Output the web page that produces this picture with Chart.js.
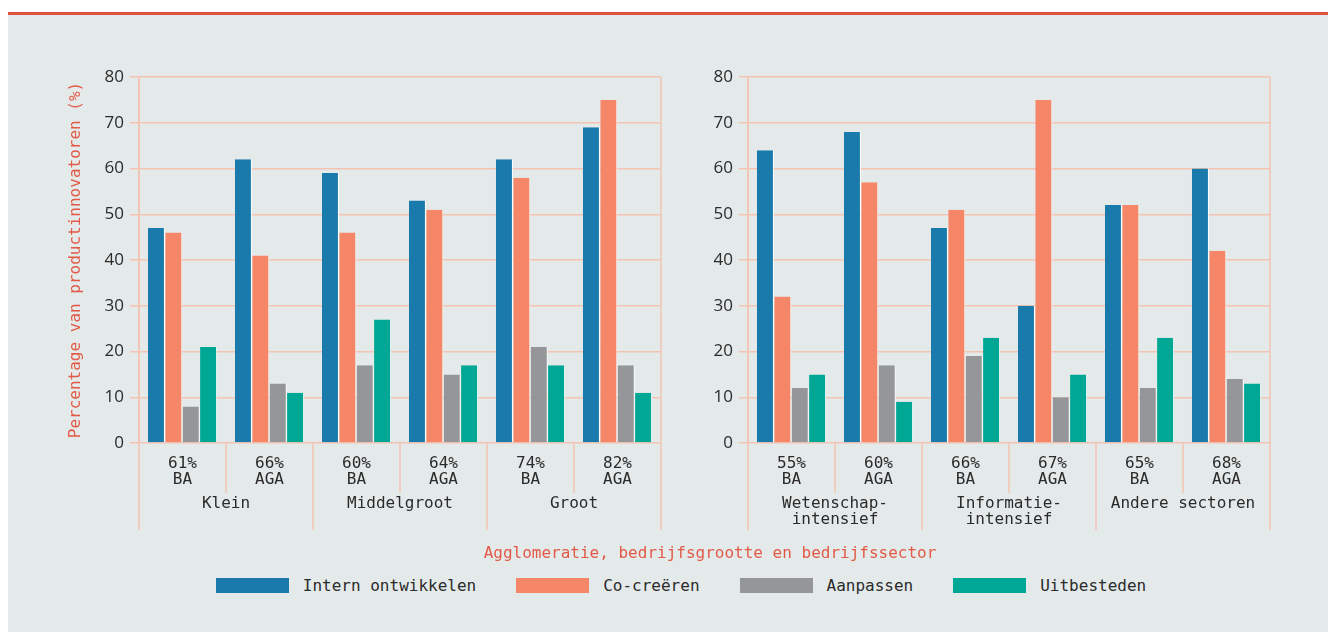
<!DOCTYPE html>
<html>
<head>
<meta charset="utf-8">
<script src="https://cdn.jsdelivr.net/npm/chart.js@4.4.1/dist/chart.umd.min.js"></script>
<style>
  html, body { margin: 0; padding: 0; background: #ffffff; }
  #wrap { position: relative; width: 1328px; height: 632px; overflow: hidden; background: #ffffff; }
  #panel { position: absolute; left: 8px; top: 15px; right: 0; bottom: 0; background: #e4eaea; }
  #redline { position: absolute; left: 8px; top: 12px; right: 0; height: 3px; background: #e0533f; }
  .cv { position: absolute; }
  #xtitle { position: absolute; left: 0; width: 1420px; top: 543px; text-align: center;
            font-family: "DejaVu Sans Mono", monospace; font-size: 16px; color: #e25a47; }
  #legend { position: absolute; left: 0; width: 1362px; top: 576px; display: flex; justify-content: center;
            gap: 40px; font-family: "DejaVu Sans Mono", monospace; font-size: 16px; color: #2b2b2b; }
  .li { display: flex; align-items: center; }
  .sw { width: 73px; height: 15px; margin-right: 14px; }
</style>
</head>
<body>
<div id="wrap">
  <div id="panel"></div>
  <div id="redline"></div>
  <div class="cv" style="left:62px;top:50px;width:609px;height:495px;"><canvas id="cl"></canvas></div>
  <div class="cv" style="left:688px;top:50px;width:592px;height:495px;"><canvas id="cr"></canvas></div>
  <div id="xtitle"></div>
  <div id="legend"></div>
</div>
<script>
// ---------- data ----------
const seriesNames = ['Intern ontwikkelen', 'Co-creëren', 'Aanpassen', 'Uitbesteden'];
const seriesColors = ['#1a7aab', '#f58667', '#959699', '#00a794'];

const leftCategories = [['61%', 'BA'], ['66%', 'AGA'], ['60%', 'BA'], ['64%', 'AGA'], ['74%', 'BA'], ['82%', 'AGA']];
const leftGroups = ['Klein', 'Middelgroot', 'Groot'];
const leftIntern    = [47, 62, 59, 53, 62, 69];
const leftCocreeren = [46, 41, 46, 51, 58, 75];
const leftAanpassen = [8, 13, 17, 15, 21, 17];
const leftUitbest   = [21, 11, 27, 17, 17, 11];

const rightCategories = [['55%', 'BA'], ['60%', 'AGA'], ['66%', 'BA'], ['67%', 'AGA'], ['65%', 'BA'], ['68%', 'AGA']];
const rightGroups = [['Wetenschap-', 'intensief'], ['Informatie-', 'intensief'], 'Andere sectoren'];
const rightIntern    = [64, 68, 47, 30, 52, 60];
const rightCocreeren = [32, 57, 51, 75, 52, 42];
const rightAanpassen = [12, 17, 19, 10, 12, 14];
const rightUitbest   = [15, 9, 23, 15, 23, 13];

const yMin = 0, yMax = 80, yStep = 10;
const yTitle = 'Percentage van productinnovatoren (%)';
const xTitle = 'Agglomeratie, bedrijfsgrootte en bedrijfssector';

// ---------- styles ----------
const gridColor = '#f4c3b3';
const mono = '"DejaVu Sans Mono", monospace';
const sans = '"Open Sans", "Noto Sans", sans-serif';
const textColor = '#2b2b2b';

const sepPlugin = {
  id: 'seps',
  afterDraw(chart) {
    const { ctx, chartArea: a } = chart;
    const x = chart.scales.x;
    const n = chart.data.labels.length;
    ctx.save();
    ctx.strokeStyle = gridColor;
    ctx.lineWidth = 1.5;
    for (let i = 0; i <= n; i++) {
      let px;
      if (i === 0) px = a.left;
      else if (i === n) px = a.right;
      else px = (x.getPixelForValue(i - 1) + x.getPixelForValue(i)) / 2;
      const major = i % 2 === 0;
      const y0 = (i === 0 || i === n) ? a.top : a.bottom;
      const y1 = major ? a.bottom + 87 : a.bottom + 50;
      ctx.beginPath();
      ctx.moveTo(px, y0);
      ctx.lineTo(px, y1);
      ctx.stroke();
    }
    ctx.restore();
  }
};

function makeChart(id, cats, groups, values, showTitle, yWidth) {
  const datasets = values.map((v, i) => ({
    label: seriesNames[i],
    data: v,
    backgroundColor: seriesColors[i],
    borderColor: '#ffffff',
    borderWidth: { left: 0, right: 1, top: 0, bottom: 0 },
    borderSkipped: false,
    categoryPercentage: 0.8,
    barPercentage: 0.98
  }));
  return new Chart(document.getElementById(id), {
    type: 'bar',
    data: { labels: cats, datasets },
    options: {
      responsive: true,
      maintainAspectRatio: false,
      animation: false,
      layout: { padding: { top: 27, right: 10, bottom: 0, left: 0 } },
      plugins: { legend: { display: false }, tooltip: { enabled: false } },
      scales: {
        x: {
          grid: { display: false, drawTicks: false },
          border: { display: false },
          ticks: { font: { family: mono, size: 16, lineHeight: 1.05 }, color: textColor, padding: 12, maxRotation: 0, autoSkip: false },
          afterFit(s) { s.height = 48; }
        },
        x2: {
          type: 'category',
          labels: groups,
          position: 'bottom',
          offset: true,
          grid: { display: false, drawTicks: false },
          border: { display: false },
          ticks: { font: { family: mono, size: 16, lineHeight: 1.05 }, color: textColor, padding: 4, maxRotation: 0, autoSkip: false },
          afterFit(s) { s.height = 54; }
        },
        y: {
          min: yMin, max: yMax,
          ticks: { stepSize: yStep, font: { family: sans, size: 17 }, color: textColor, padding: 6 },
          grid: { color: gridColor, lineWidth: 1.5, tickLength: 9 },
          border: { display: true, color: gridColor, width: 1.5 },
          title: { display: showTitle, text: yTitle, font: { family: mono, size: 16 }, color: '#e25a47', padding: { top: 4, bottom: 0 } },
          afterFit(s) { s.width = yWidth; }
        }
      }
    },
    plugins: [sepPlugin]
  });
}

makeChart('cl', leftCategories, leftGroups, [leftIntern, leftCocreeren, leftAanpassen, leftUitbest], true, 77);
makeChart('cr', rightCategories, rightGroups, [rightIntern, rightCocreeren, rightAanpassen, rightUitbest], false, 60);

document.getElementById('xtitle').textContent = xTitle;
const leg = document.getElementById('legend');
seriesNames.forEach((name, i) => {
  const item = document.createElement('div');
  item.className = 'li';
  const sw = document.createElement('div');
  sw.className = 'sw';
  sw.style.background = seriesColors[i];
  const t = document.createElement('span');
  t.textContent = name;
  item.appendChild(sw);
  item.appendChild(t);
  leg.appendChild(item);
});
</script>
</body>
</html>
